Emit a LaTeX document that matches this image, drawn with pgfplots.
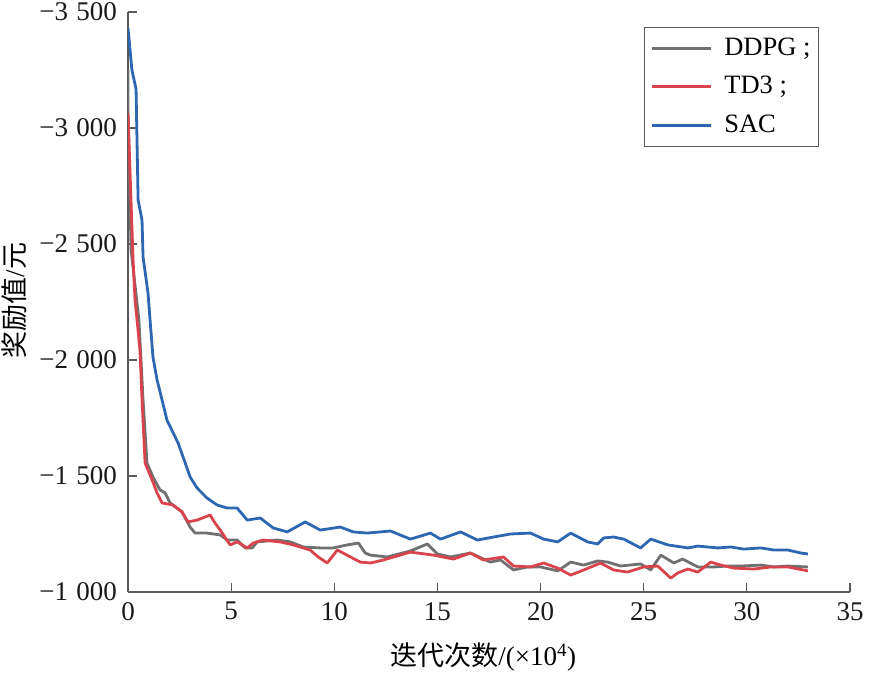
\documentclass[border=0pt]{standalone}
\usepackage{fontspec}
\setmainfont{Liberation Serif}
\newfontfamily\cjk{Noto Sans CJK SC}
\usepackage{pgfplots}
\pgfplotsset{compat=1.18}
\definecolor{grayline}{HTML}{707070}
\definecolor{redline}{HTML}{D8434C}
\definecolor{blueline}{HTML}{2E67B1}
\definecolor{caxis}{HTML}{5A5A5A}
\begin{document}
\fontsize{27bp}{32bp}\selectfont
\begin{tikzpicture}
\path[use as bounding box] (0,0) rectangle (870bp,696bp);
\begin{axis}[
  at={(128bp,104bp)}, anchor=south west,
  scale only axis, width=722bp, height=580bp,
  xmin=0, xmax=35, ymin=-3500, ymax=-1000,
  y dir=reverse,
  axis x line*=bottom, axis y line*=left,
  axis line style={-, caxis, line width=1.3bp},
  xtick={0,5,...,35},
  ytick={-3500,-3000,-2500,-2000,-1500,-1000},
  yticklabels={−3\hspace{0.3em}500,−3\hspace{0.3em}000,−2\hspace{0.3em}500,−2\hspace{0.3em}000,−1\hspace{0.3em}500,−1\hspace{0.3em}000},
  /pgf/number format/assume math mode=true,
  major tick length=9bp,
  tick style={caxis, line width=1.1bp},
  ticklabel style={font=\fontsize{27bp}{32bp}\selectfont, text=black!90},
  xticklabel style={yshift=-1bp},
  yticklabel style={xshift=-2bp},
  xlabel={\cjk 迭代次数\rmfamily/(×10$^{\mathrm{4}}$)},
  ylabel={\cjk 奖励值\rmfamily/\cjk 元},
  xlabel style={at={(axis description cs:0.492,-0.112)}, anchor=center, font=\fontsize{27bp}{32bp}\selectfont},
  ylabel style={at={(axis description cs:-0.158,0.503)}, anchor=center, rotate=0, font=\fontsize{27bp}{32bp}\selectfont},
  legend style={at={(axis description cs:0.957,0.974)}, anchor=north east,
    draw=caxis, line width=1bp, font=\fontsize{26.5bp}{32bp}\selectfont,
    inner xsep=6bp, inner ysep=8bp, row sep=13bp,
    /tikz/every odd column/.append style={column sep=10bp}},
  legend cell align=left,
  legend image code/.code={\draw[#1, line width=3bp] (0bp,0bp) -- (59bp,0bp);},
  tick align=inside,
]
\addplot[draw=grayline, line width=2.8bp, line join=round] coordinates {
(0,-3250) (0,-3080) (0.15,-2474) (0.53,-2172) (0.73,-1828) (0.92,-1556) (1.21,-1496) (1.55,-1440) (1.80,-1427) (2.04,-1384) (2.62,-1345) (3.01,-1280) (3.25,-1254) (3.83,-1254) (4.47,-1246) (4.81,-1224) (5.29,-1224) (5.68,-1190) (6.02,-1190) (6.26,-1216) (7.23,-1224) (7.86,-1216) (8.50,-1194) (9.32,-1190) (9.95,-1190) (10.63,-1203) (11.17,-1211) (11.50,-1168) (11.75,-1159) (12.57,-1151) (13.69,-1177) (14.51,-1207) (15.00,-1164) (15.63,-1151) (16.60,-1168) (17.57,-1129) (18.06,-1138) (18.69,-1095) (19.37,-1108) (20.00,-1108) (20.83,-1091) (21.46,-1129) (22.09,-1116) (22.77,-1134) (23.25,-1129) (23.88,-1112) (24.85,-1121) (25.34,-1095) (25.83,-1159) (26.46,-1125) (26.89,-1142) (27.62,-1108) (28.40,-1108) (29.08,-1112) (29.71,-1112) (30.68,-1116) (31.31,-1108) (31.99,-1112) (32.96,-1108)
};
\addlegendentry{DDPG\hspace{0.25em};}
\addplot[draw=redline, line width=2.8bp, line join=round] coordinates {
(0,-3065) (0.24,-2444) (0.34,-2259) (0.44,-2172) (0.58,-2043) (0.68,-1828) (0.83,-1556) (1.17,-1483) (1.41,-1427) (1.65,-1384) (2.18,-1375) (2.62,-1345) (2.91,-1302) (3.35,-1310) (3.98,-1332) (4.22,-1297) (4.47,-1267) (4.95,-1203) (5.29,-1216) (5.78,-1190) (6.07,-1211) (6.55,-1224) (7.38,-1216) (8.01,-1203) (8.83,-1181) (9.22,-1151) (9.66,-1125) (10.15,-1181) (10.78,-1151) (11.26,-1129) (11.75,-1125) (12.38,-1138) (13.69,-1172) (14.81,-1159) (15.78,-1142) (16.60,-1168) (17.23,-1138) (18.20,-1151) (18.69,-1112) (19.51,-1108) (20.15,-1125) (20.83,-1103) (21.46,-1073) (22.09,-1095) (22.91,-1125) (23.54,-1095) (24.22,-1086) (25.00,-1108) (25.68,-1112) (26.31,-1060) (26.65,-1082) (27.14,-1099) (27.62,-1086) (28.25,-1129) (28.74,-1116) (29.37,-1103) (30.34,-1099) (31.17,-1108) (31.99,-1108) (32.96,-1091)
};
\addlegendentry{TD3\hspace{0.25em};}
\addplot[draw=blueline, line width=2.8bp, line join=round] coordinates {
(0,-3431) (0.19,-3250) (0.39,-3168) (0.49,-2690) (0.68,-2603) (0.73,-2444) (0.97,-2289) (1.07,-2172) (1.21,-2013) (1.41,-1914) (1.65,-1828) (1.89,-1741) (2.43,-1642) (2.67,-1582) (3.01,-1496) (3.35,-1448) (3.83,-1405) (4.32,-1375) (4.81,-1362) (5.29,-1362) (5.78,-1310) (6.41,-1319) (7.04,-1276) (7.72,-1259) (8.59,-1302) (9.32,-1267) (10.29,-1280) (10.92,-1259) (11.60,-1254) (12.72,-1263) (13.69,-1228) (14.66,-1254) (15.15,-1228) (16.12,-1259) (16.94,-1224) (17.72,-1237) (18.54,-1250) (19.51,-1254) (20.15,-1228) (20.83,-1216) (21.46,-1254) (22.28,-1216) (22.77,-1207) (23.06,-1233) (23.54,-1237) (24.03,-1228) (24.85,-1190) (25.34,-1228) (26.17,-1203) (27.14,-1190) (27.62,-1198) (28.59,-1190) (29.22,-1194) (29.85,-1185) (30.68,-1190) (31.31,-1181) (31.99,-1181) (32.62,-1168) (32.96,-1164)
};
\addlegendentry{SAC}
\end{axis}
\end{tikzpicture}
\end{document}
